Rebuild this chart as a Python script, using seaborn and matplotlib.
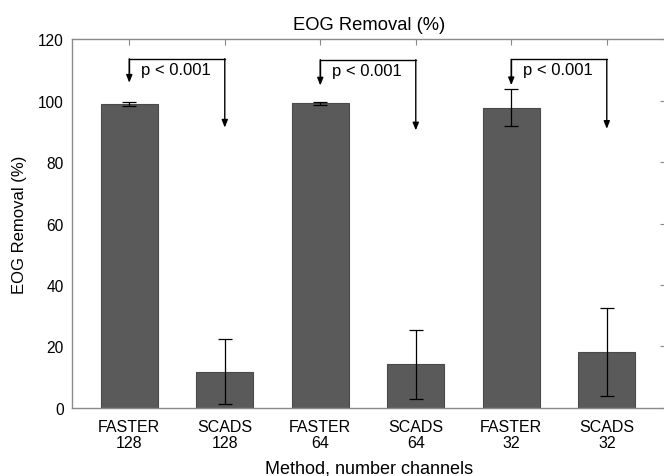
import matplotlib
matplotlib.use("Agg")
import matplotlib.pyplot as plt
import seaborn as sns
import pandas as pd

categories = ["FASTER\n128", "SCADS\n128", "FASTER\n64", "SCADS\n64", "FASTER\n32", "SCADS\n32"]
means = [98.8, 11.8, 99.1, 14.2, 97.7, 18.2]
errors = [0.7, 10.5, 0.5, 11.3, 5.9, 14.3]
yticks = [0, 20, 40, 60, 80, 100, 120]
# significance brackets: (left index, right index, top, left tip, right tip)
brackets = [(0, 1, 113.6, 105.8, 91.2), (2, 3, 113.3, 104.9, 90.3), (4, 5, 113.4, 105.0, 90.8)]
p_text = "p < 0.001"

sns.set_theme(style="white")
plt.rcParams["font.family"] = ["Liberation Sans", "DejaVu Sans"]
plt.rcParams["text.color"] = "black"
plt.rcParams["axes.labelcolor"] = "black"
plt.rcParams["xtick.color"] = "black"
plt.rcParams["ytick.color"] = "black"

df = pd.DataFrame({"cat": categories, "val": means})

fig = plt.figure(figsize=(6.64, 4.77), dpi=100)
ax = fig.add_axes([0.1084, 0.1426, 0.8946, 0.7734])

sns.barplot(data=df, x="cat", y="val", color="#5a5a5a", width=0.6,
            errorbar=None, saturation=1, edgecolor="#4a4a4a", linewidth=0.8, ax=ax)
ax.errorbar(range(len(categories)), means, yerr=errors, fmt="none",
            ecolor="black", elinewidth=0.9, capsize=5, capthick=0.9)

for li, ri, top, ltip, rtip in brackets:
    ax.plot([li, li, ri], [ltip + 2, top, top], color="black", lw=1)
    ax.annotate("", xy=(li, ltip), xytext=(li, top),
                arrowprops=dict(arrowstyle="-|>,head_length=0.5,head_width=0.2", color="black", lw=1,
                                mutation_scale=9, shrinkA=0, shrinkB=0))
    ax.annotate("", xy=(ri, rtip), xytext=(ri, top),
                arrowprops=dict(arrowstyle="-|>,head_length=0.5,head_width=0.2", color="black", lw=1,
                                mutation_scale=9, shrinkA=0, shrinkB=0))
    ax.text(li + 0.12, top - 3.4, p_text, fontsize=12, va="center", ha="left")

ax.set_xlim(-0.6, 5.62)
ax.set_ylim(0, 120)
ax.set_yticks(yticks)
ax.set_yticklabels([str(t) for t in yticks], fontsize=11.2)
ax.set_xticks(range(len(categories)))
ax.set_xticklabels(categories, fontsize=11.5, linespacing=1.05)
ax.tick_params(direction="in", top=True, right=True, length=4, color="#888888",
               width=0.8, pad=6, labelcolor="black")
ax.tick_params(axis="x", pad=8)
for s in ax.spines.values():
    s.set_color("#8a8a8a")
    s.set_linewidth(1.0)

ax.set_xlabel("Method, number channels", fontsize=13, labelpad=7)
ax.set_ylabel("EOG Removal (%)", fontsize=12, labelpad=8)
ax.set_title("EOG Removal (%)", fontsize=13.2, pad=7)

fig.savefig("out.png", dpi=100, facecolor="white")
